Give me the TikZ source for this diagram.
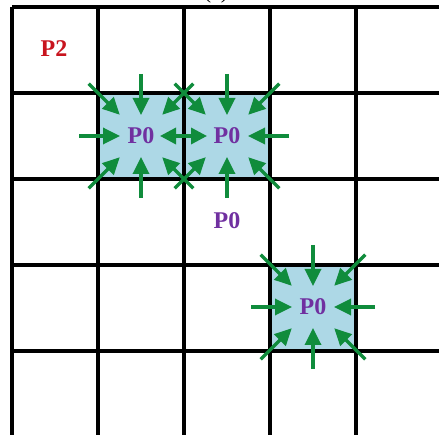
\documentclass[tikz,border=0pt]{standalone}
\usepackage{fontspec}
\setmainfont{Liberation Serif}
\usetikzlibrary{arrows.meta,calc}
\definecolor{cellblue}{RGB}{173,216,230}
\definecolor{pgreen}{RGB}{16,140,60}
\definecolor{pred}{RGB}{200,20,30}
\definecolor{ppurple}{RGB}{112,48,160}
\tikzset{
  gridline/.style={line width=3.8pt, black},
  garrow/.style={draw=pgreen, line width=3.4pt, -{Triangle[length=17pt,width=16pt]}},
  gdouble/.style={draw=pgreen, line width=3.4pt, {Triangle[length=16pt,width=16pt]}-{Triangle[length=16pt,width=16pt]}},
  plabel/.style={font=\fontsize{24}{26}\selectfont\bfseries, inner sep=0pt},
}
\begin{document}
\begin{tikzpicture}[x=1pt,y=-1pt]
\useasboundingbox (0,0) rectangle (439,435);
% blue cells
\fill[cellblue] (98,93) rectangle (270,179);
\fill[cellblue] (270,265) rectangle (356,351);
% grid
\foreach \x in {12,98,184,270,356,442} \draw[gridline] (\x,7) -- (\x,445);
\foreach \y in {7,93,179,265,351,437} \draw[gridline] (12,\y) -- (445,\y);
% caption, cut off at the top
\node[font=\fontsize{22}{24}\selectfont, anchor=base] (cap) at (216,-1) {(a)};
% text nodes
\node[plabel, text=pred] (p2) at (54,49) {P2};
\node[plabel, text=ppurple] (c1) at (141,136) {P0};
\node[plabel, text=ppurple] (c2) at (227,136) {P0};
\node[plabel, text=ppurple] (c4) at (227,221) {P0};
\node[plabel, text=ppurple] (c3) at (313,307) {P0};
% arrows
\foreach \n/\angs in {c1/{90,180,270}, c2/{0,90,270}, c3/{0,90,180,270}}{
  \foreach \a in \angs {
    \draw[garrow] ($(\n.center)+(\a:62)$) -- ($(\n.center)+(\a:21)$);
  }
}
\foreach \a in {45,135,225,315} {
  \draw[garrow] ($(c1.center)+(\a:74)$) -- ($(c1.center)+(\a:30)$);
  \draw[garrow] ($(c2.center)+(\a:74)$) -- ($(c2.center)+(\a:30)$);
  \draw[garrow] ($(c3.center)+(\a:74)$) -- ($(c3.center)+(\a:30)$);
}
\draw[gdouble] ($(c1.center)+(19,0)$) -- ($(c2.center)+(-20,0)$);
\end{tikzpicture}
\end{document}
